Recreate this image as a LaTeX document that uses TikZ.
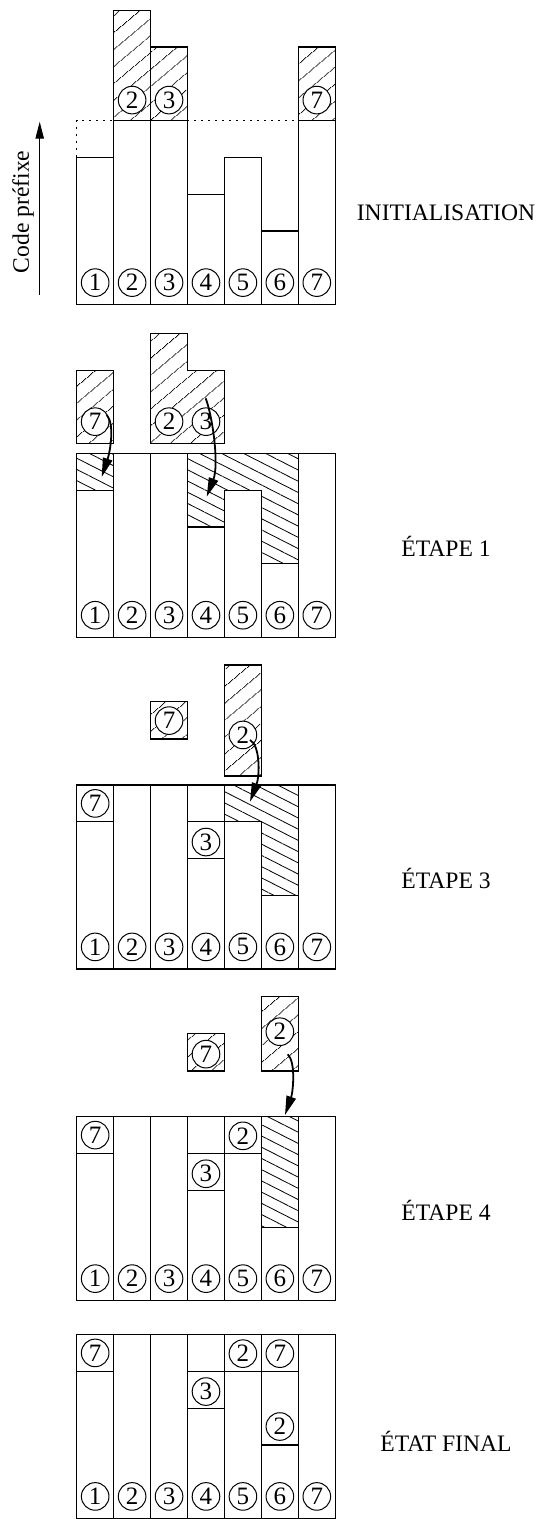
\documentclass[tikz,border=0pt]{standalone}
\usepackage{fontspec}
\setmainfont{Liberation Serif}
\usetikzlibrary{patterns.meta,arrows.meta}
\begin{document}
\begin{tikzpicture}[x=0.5pt,y=-0.5pt,
  bar/.style={draw,line width=0.6pt},
  hatchA/.style={pattern={Lines[angle=40,distance=6.5pt,line width=0.4pt]}},
  hatchB/.style={pattern={Lines[angle=-27,distance=5pt,line width=0.4pt]}},
  dotline/.style={line width=0.5pt,dash pattern=on 1pt off 2.5pt},
  cnum/.style={circle,draw,fill=white,inner sep=0pt,minimum size=13.8pt,line width=0.5pt,font=\fontsize{12.5}{12.5}\selectfont},
  lbl/.style={font=\fontsize{11.8}{14}\selectfont,inner sep=0pt},
  arr/.style={-{Triangle[length=9.5pt,width=4.8pt]},line width=0.9pt},
  axarr/.style={-{Triangle[length=8.5pt,width=4.2pt]},line width=0.6pt}]
\useasboundingbox (0,0) rectangle (540,1519);

% ---------- INITIALISATION ----------
\begin{scope}[shift={(76.7,120.7)},x=18.47pt,y=-18.4pt]
  \draw[bar] (0,1) rectangle (1,5) (1,0) rectangle (2,5) (2,0) rectangle (3,5)
             (3,2) rectangle (4,5) (4,1) rectangle (5,5) (5,3) rectangle (6,5) (6,0) rectangle (7,5);
  \draw[bar,hatchA] (1,-3) rectangle (2,0) (2,-2) rectangle (3,0) (6,-2) rectangle (7,0);
  \draw[dotline] (0,1) -- (0,0) -- (6,0);
  \node[cnum] (a-h2) at (1.5,-0.56) {2};
  \node[cnum] (a-h3) at (2.5,-0.56) {3};
  \node[cnum] (a-h7) at (6.5,-0.56) {7};
  \foreach \i in {1,...,7} \node[cnum] (a-\i) at (\i-0.5,4.4) {\i};
\end{scope}

% ---------- ETAPE 1 ----------
\begin{scope}[shift={(76.7,453.3)},x=18.47pt,y=-18.4pt]
  \fill[hatchB] (0,0) rectangle (1,1);
  \fill[hatchB] (3,0) -- (6,0) -- (6,3) -- (5,3) -- (5,1) -- (4,1) -- (4,2) -- (3,2) -- cycle;
  \draw[bar] (0,0) rectangle (7,5);
  \draw[bar] (0,1) rectangle (1,5) (1,0) rectangle (2,5) (2,0) rectangle (3,5)
             (3,2) rectangle (4,5) (4,1) rectangle (5,5) (5,3) rectangle (6,5) (6,0) rectangle (7,5);
  \draw[bar,hatchA] (0,-2.26) rectangle (1,-0.27);
  \draw[bar,hatchA] (2,-3.26) -- (3,-3.26) -- (3,-2.26) -- (4,-2.26) -- (4,-0.27) -- (2,-0.27) -- cycle;
  \node[cnum] (b-f7) at (0.5,-0.86) {7};
  \node[cnum] (b-f2) at (2.5,-0.86) {2};
  \node[cnum] (b-f3) at (3.5,-0.86) {3};
  \foreach \i in {1,...,7} \node[cnum] (b-\i) at (\i-0.5,4.4) {\i};
\end{scope}

% ---------- ETAPE 3 ----------
\begin{scope}[shift={(76.7,785)},x=18.47pt,y=-18.4pt]
  \draw[bar,hatchB] (4,0) -- (6,0) -- (6,3) -- (5,3) -- (5,1) -- (4,1) -- cycle;
  \draw[bar] (0,0) rectangle (7,5);
  \draw[bar] (0,0) rectangle (1,1) (0,1) rectangle (1,5) (1,0) rectangle (2,5) (2,0) rectangle (3,5)
             (3,1) rectangle (4,2) (3,2) rectangle (4,5) (4,1) rectangle (5,5) (5,3) rectangle (6,5) (6,0) rectangle (7,5);
  \node[cnum] (c-c7) at (0.5,0.5) {7};
  \node[cnum] (c-c3) at (3.5,1.55) {3};
  \draw[bar,hatchA] (2,-2.26) rectangle (3,-1.25);
  \node[cnum] (c-f7) at (2.5,-1.75) {7};
  \draw[bar,hatchA] (4,-3.26) rectangle (5,-0.245);
  \node[cnum] (c-f2) at (4.5,-1.36) {2};
  \foreach \i in {1,...,7} \node[cnum] (c-\i) at (\i-0.5,4.4) {\i};
\end{scope}

% ---------- ETAPE 4 ----------
\begin{scope}[shift={(76.7,1116.7)},x=18.47pt,y=-18.4pt]
  \draw[bar,hatchB] (5,0) rectangle (6,3);
  \draw[bar] (0,0) rectangle (7,5);
  \draw[bar] (0,0) rectangle (1,1) (0,1) rectangle (1,5) (1,0) rectangle (2,5) (2,0) rectangle (3,5)
             (3,1) rectangle (4,2) (3,2) rectangle (4,5) (4,0) rectangle (5,1) (4,1) rectangle (5,5)
             (5,3) rectangle (6,5) (6,0) rectangle (7,5);
  \node[cnum] (d-c7) at (0.5,0.5) {7};
  \node[cnum] (d-c3) at (3.5,1.55) {3};
  \node[cnum] (d-c2) at (4.5,0.52) {2};
  \draw[bar,hatchA] (3,-2.27) rectangle (4,-1.24);
  \node[cnum] (d-f7) at (3.5,-1.7) {7};
  \draw[bar,hatchA] (5,-3.26) rectangle (6,-1.24);
  \node[cnum] (d-f2) at (5.5,-2.31) {2};
  \foreach \i in {1,...,7} \node[cnum] (d-\i) at (\i-0.5,4.4) {\i};
\end{scope}

% ---------- ETAT FINAL ----------
\begin{scope}[shift={(76.7,1334.5)},x=18.47pt,y=-18.4pt]
  \draw[bar] (0,0) rectangle (7,5);
  \draw[bar] (0,0) rectangle (1,1) (0,1) rectangle (1,5) (1,0) rectangle (2,5) (2,0) rectangle (3,5)
             (3,1) rectangle (4,2) (3,2) rectangle (4,5) (4,0) rectangle (5,1) (4,1) rectangle (5,5)
             (5,0) rectangle (6,1) (5,1) rectangle (6,3) (5,3) rectangle (6,5) (6,0) rectangle (7,5);
  \node[cnum] (e-c7) at (0.5,0.5) {7};
  \node[cnum] (e-c3) at (3.5,1.55) {3};
  \node[cnum] (e-c2) at (4.5,0.52) {2};
  \node[cnum] (e-c7b) at (5.5,0.52) {7};
  \node[cnum] (e-c2b) at (5.5,2.5) {2};
  \foreach \i in {1,...,7} \node[cnum] (e-\i) at (\i-0.5,4.4) {\i};
\end{scope}

% ---------- curved arrows ----------
\coordinate (a1s) at (106.7,415);  \coordinate (a1e) at (101.7,477);
\coordinate (a2s) at (205.7,398.3); \coordinate (a2e) at (206.7,496.7);
\coordinate (a3s) at (250,740);    \coordinate (a3e) at (250,801.7);
\coordinate (a4s) at (287.7,1054.3); \coordinate (a4e) at (285,1115);
\draw[arr] (a1s) .. controls (115,424) and (110,452) .. (a1e);
\draw[arr] (a2s) .. controls (213,418) and (219,465) .. (a2e);
\draw[arr] (a3s) .. controls (260,745) and (260,775) .. (a3e);
\draw[arr] (a4s) .. controls (296,1062) and (293,1092) .. (a4e);

% ---------- axis ----------
\coordinate (ax0) at (39.7,295); \coordinate (ax1) at (39.7,121.7);
\draw[axarr] (ax0) -- (ax1);
\node[lbl,rotate=90] (axlab) at (23,212) {Code préfixe};

% ---------- labels ----------
\node[lbl] (l1) at (446,213) {INITIALISATION};
\node[lbl] (l2) at (446,546) {ÉTAPE 1};
\node[lbl] (l3) at (446,878) {ÉTAPE 3};
\node[lbl] (l4) at (446,1210) {ÉTAPE 4};
\node[lbl] (l5) at (446,1441) {ÉTAT FINAL};
\end{tikzpicture}
\end{document}
